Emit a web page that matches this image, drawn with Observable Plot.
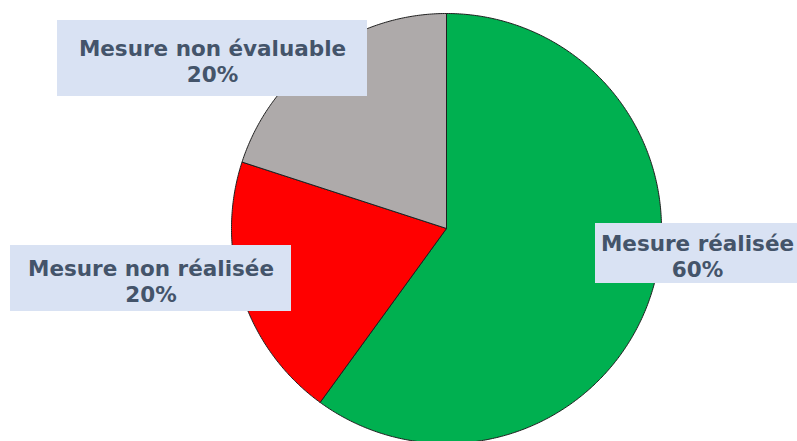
<!DOCTYPE html>
<html>
<head>
<meta charset="utf-8">
<script src="https://cdn.jsdelivr.net/npm/d3@7"></script>
<script src="https://cdn.jsdelivr.net/npm/@observablehq/plot@0.6"></script>
<style>
  html, body { margin: 0; padding: 0; background: #ffffff; }
  #chart svg { display: block; }
</style>
</head>
<body>
<div id="chart"></div>
<script>
// ---- data ----
const categories = ["Mesure réalisée", "Mesure non réalisée", "Mesure non évaluable"];
const values = [60, 20, 20];
const percentLabels = ["60%", "20%", "20%"];

// ---- style / layout (not data) ----
const sliceColors = ["#00b050", "#ff0000", "#aeaaaa"];
const W = 797, H = 441;
const R = 215;              // pie radius in px
const CX = 446, CY = 228;   // pie centre in px
// label box layout in px relative to centre: [dx, dy, width, height]
const labelLayout = [
  [251, 25, 204, 60],
  [-295.5, 50, 281, 66],
  [-234, -170, 310, 76]
];

// ---- geometry from data through d3.pie ----
const arcs = d3.pie().sort(null).value(d => d)(values);
const slicePts = [];
arcs.forEach((a, i) => {
  const cat = categories[i];
  slicePts.push({cat, x: 0, y: 0});
  const n = Math.max(2, Math.ceil((a.endAngle - a.startAngle) / (Math.PI / 360)));
  for (let k = 0; k <= n; k++) {
    const t = a.startAngle + (a.endAngle - a.startAngle) * k / n;
    slicePts.push({cat, x: Math.sin(t), y: Math.cos(t)});
  }
  slicePts.push({cat, x: 0, y: 0});
});

const labels = categories.map((c, i) => {
  const [dx, dy, w, h] = labelLayout[i];
  return {
    cat: c,
    text: c + "\n" + percentLabels[i],
    x: dx / R, y: -dy / R,
    x1: (dx - w / 2) / R, x2: (dx + w / 2) / R,
    y1: -(dy - h / 2) / R, y2: -(dy + h / 2) / R
  };
});

const chart = Plot.plot({
  width: W,
  height: H,
  margin: 0,
  style: {background: "#ffffff", overflow: "visible"},
  x: {domain: [-CX / R, (W - CX) / R], axis: null},
  y: {domain: [-(H - CY) / R, CY / R], axis: null},
  color: {domain: categories, range: sliceColors},
  marks: [
    Plot.line(slicePts, {
      x: "x", y: "y", z: "cat", fill: "cat",
      stroke: "#1f1f1f", strokeWidth: 1, curve: "linear", strokeLinejoin: "round"
    }),
    Plot.rect(labels, {x1: "x1", x2: "x2", y1: "y1", y2: "y2", fill: "#d9e2f3"}),
    Plot.text(labels, {
      x: "x", y: "y", text: "text", dy: 2,
      fontSize: 21.5, fontWeight: "bold", fontFamily: "DejaVu Sans, Verdana, sans-serif",
      fill: "#44546a", lineHeight: 1.2
    })
  ]
});
document.getElementById("chart").appendChild(chart);
</script>
</body>
</html>
